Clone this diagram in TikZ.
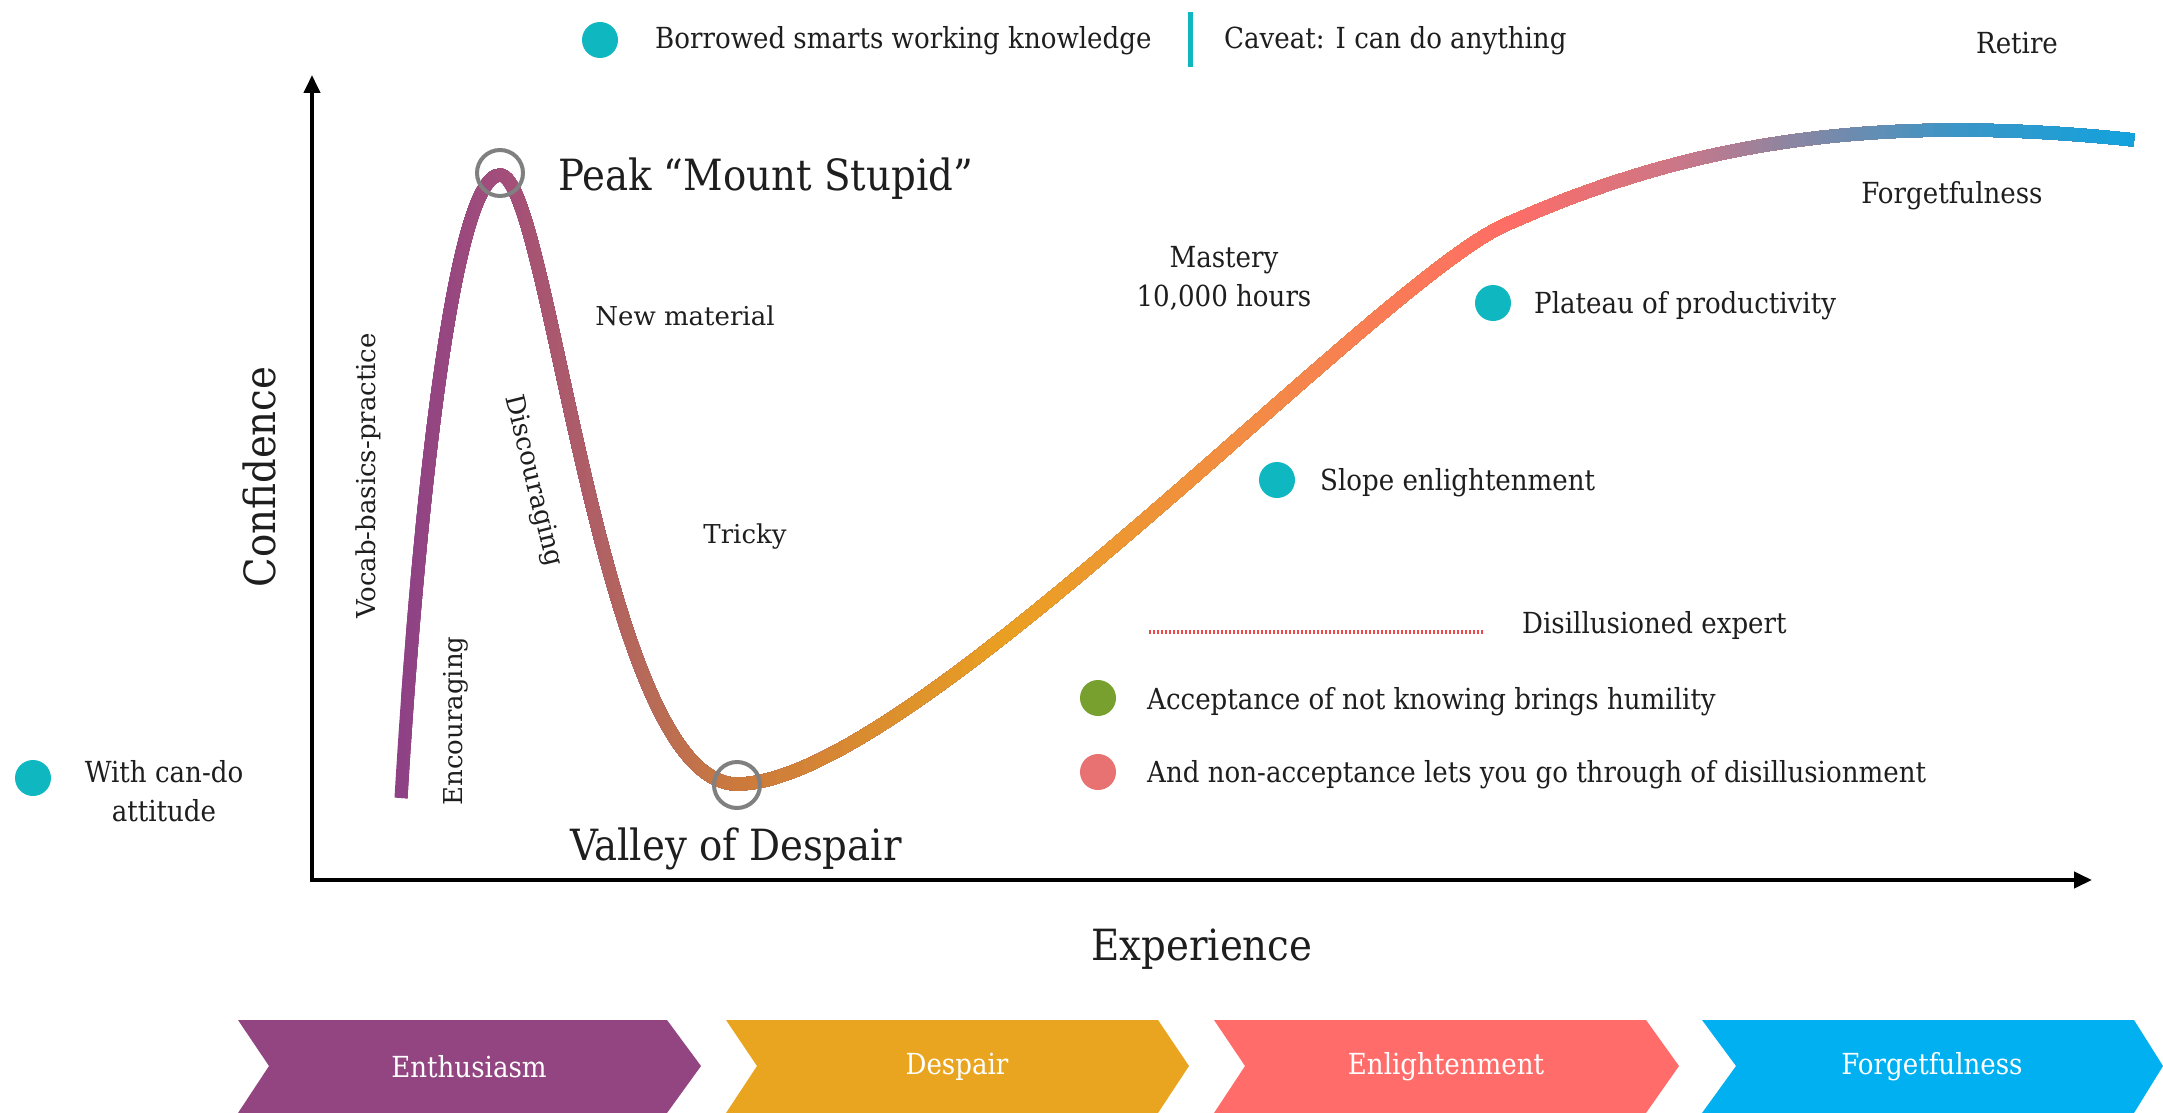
\documentclass[tikz,border=0pt]{standalone}
\usepackage{fontspec}
\setmainfont{DejaVu Serif}
\newfontfamily\condfont{DejaVu Serif Condensed}
\usetikzlibrary{arrows.meta}

% palette
\definecolor{inkc}{HTML}{1E1E1E}
\definecolor{tealdot}{HTML}{0FB8C0}
\definecolor{greendot}{HTML}{77A02E}
\definecolor{reddot}{HTML}{E87272}
\definecolor{dotline}{HTML}{F04848}
\definecolor{ringgrey}{HTML}{808080}
\definecolor{chevpurple}{HTML}{924581}
\definecolor{chevorange}{HTML}{E9A51F}
\definecolor{chevsalmon}{HTML}{FF6C69}
\definecolor{chevblue}{HTML}{00B0F0}

% colour stops of the confidence curve, left to right
\definecolor{g0}{HTML}{8E4285}
\definecolor{g1}{HTML}{A34E7A}
\definecolor{g2}{HTML}{B76A58}
\definecolor{g3}{HTML}{CC7A3C}
\definecolor{g4}{HTML}{E9A022}
\definecolor{g5}{HTML}{F38B46}
\definecolor{g6}{HTML}{FF6D66}
\definecolor{g7}{HTML}{C9778A}
\definecolor{g8}{HTML}{8A86A2}
\definecolor{g9}{HTML}{3B95C6}
\definecolor{g10}{HTML}{12A3DE}

% the confidence curve itself
\newcommand\drawconfcurve[1]{%
  \draw[#1, line width=13pt]
    (401,798) .. controls (415,560) and (450,175) .. (500,175)
    .. controls (550,175) and (600,784) .. (737,784)
    .. controls (910,784) and (1375,283) .. (1505,225)
    .. controls (1685,144) and (1870,112) .. (2134,140);}

\begin{document}
\begin{tikzpicture}[x=1pt,y=-1pt,
  lbl/.style={font=\condfont\fontsize{29}{35}\selectfont, text=inkc, inner sep=0pt},
  wlbl/.style={font=\fontsize{26}{31}\selectfont, text=inkc, inner sep=0pt},
  biglbl/.style={font=\condfont\fontsize{43}{50}\selectfont, text=inkc, inner sep=0pt},
  dot/.style={circle, fill=#1, minimum size=36pt, inner sep=0pt},
  ring/.style={circle, draw=ringgrey, line width=4pt, minimum size=46pt, inner sep=0pt},
  axis/.style={line width=4pt, draw=black,
    {Triangle[length=18pt,width=16pt]}-{Triangle[length=18pt,width=16pt]}},
  chevtext/.style={font=\condfont\fontsize{29}{35}\selectfont, text=white, inner sep=0pt},
]
\useasboundingbox (0,0) rectangle (2163,1113);

% axes
\coordinate (origin) at (312,880);
\coordinate (ytip) at (312,75);
\coordinate (xtip) at (2092,880);
\draw[axis] (ytip) -- (origin) -- (xtip);

% confidence curve: colour changes from left to right, each pass
% repaints the part of the curve right of its starting line
\drawconfcurve{g0}
\foreach \xa/\xb/\ca/\cb in {401/500/g0/g1, 500/644/g1/g2, 644/737/g2/g3,
    737/1000/g3/g4, 1000/1250/g4/g5, 1250/1505/g5/g6, 1505/1680/g6/g7,
    1680/1790/g7/g8, 1790/1950/g8/g9, 1950/2134/g9/g10}{
  \foreach \k in {0,...,19}{
    \pgfmathsetmacro\xx{\xa+(\xb-\xa)*\k/20}
    \pgfmathsetmacro\pct{100-5*\k}
    \colorlet{curvecol}{\ca!\pct!\cb}
    \begin{scope}
      \clip (\xx,-20) rectangle (2200,1130);
      \drawconfcurve{curvecol}
    \end{scope}
  }
}

% marker rings
\node[ring] (peakring) at (500,173) {};
\node[ring] (valleyring) at (737,785) {};

% axis titles
\node[biglbl, rotate=90] (confidence) at (259,477) {Confidence};
\node[biglbl] (experience) at (1202,949) {Experience};

% landmark titles
\node[biglbl, anchor=base west] (peak) at (558,190) {Peak “Mount Stupid”};
\node[biglbl, anchor=base] (valley) at (736,860) {Valley of Despair};

% labels along the curve
\node[wlbl, rotate=90] (vocab) at (368,476) {Vocab-basics-practice};
\node[wlbl, rotate=90] (encouraging) at (456,721) {Encouraging};
\node[wlbl, rotate=-76] (discouraging) at (533,481) {Discouraging};
\node[wlbl, anchor=base] (newmat) at (685,325) {New material};
\node[wlbl, anchor=base] (tricky) at (745,543) {Tricky};
\node[lbl, anchor=base, align=center] (mastery) at (1224,306) {Mastery\\[4pt]10,000 hours};
\node[lbl, anchor=base] (forget) at (1952,203) {Forgetfulness};
\node[lbl, anchor=base] (retire) at (2017,54) {Retire};

% top legend
\node[dot=tealdot] (borrowdot) at (600,40) {};
\node[lbl, anchor=base west] (borrow) at (655,49) {Borrowed smarts working knowledge};
\node[fill=tealdot, minimum width=5pt, minimum height=55pt, inner sep=0pt] (caveatbar) at (1190,40) {};
\node[lbl, anchor=base west] (caveat) at (1224,49) {Caveat: I can do anything};

% stage markers
\node[dot=tealdot] (candodot) at (33,778) {};
\node[lbl, anchor=base, align=center] (cando) at (164,821) {With can-do\\[4pt]attitude};
\node[dot=tealdot] (plateaudot) at (1493,303) {};
\node[lbl, anchor=base west] (plateau) at (1534,313) {Plateau of productivity};
\node[dot=tealdot] (slopedot) at (1277,480) {};
\node[lbl, anchor=base west] (slope) at (1320,490) {Slope enlightenment};

% lower legend
\coordinate (dlstart) at (1149,632);
\coordinate (dlend) at (1484,632);
\draw[dotline, line width=3.5pt, dash pattern=on 2pt off 2pt] (dlstart) -- (dlend);
\node[lbl, anchor=base west] (disill) at (1522,633) {Disillusioned expert};
\node[dot=greendot] (acceptdot) at (1098,698) {};
\node[lbl, anchor=base west] (accept) at (1147,709) {Acceptance of not knowing brings humility};
\node[dot=reddot] (nonacceptdot) at (1098,772) {};
\node[lbl, anchor=base west] (nonaccept) at (1147,782) {And non-acceptance lets you go through of disillusionment};

% phase chevrons
\fill[chevpurple] (238,1020) -- (667,1020) -- (701,1066) -- (667,1113) -- (238,1113) -- (269,1066) -- cycle;
\fill[chevorange] (726,1020) -- (1158,1020) -- (1189,1066) -- (1158,1113) -- (726,1113) -- (757,1066) -- cycle;
\fill[chevsalmon] (1214,1020) -- (1646,1020) -- (1679,1066) -- (1646,1113) -- (1214,1113) -- (1245,1066) -- cycle;
\fill[chevblue] (1702,1020) -- (2134,1020) -- (2163,1066) -- (2134,1113) -- (1702,1113) -- (1736,1066) -- cycle;
\node[chevtext] (enthusiasm) at (469,1067) {Enthusiasm};
\node[chevtext] (despair) at (957,1067) {Despair};
\node[chevtext] (enlight) at (1446,1067) {Enlightenment};
\node[chevtext] (forgetphase) at (1932,1067) {Forgetfulness};
\end{tikzpicture}
\end{document}
